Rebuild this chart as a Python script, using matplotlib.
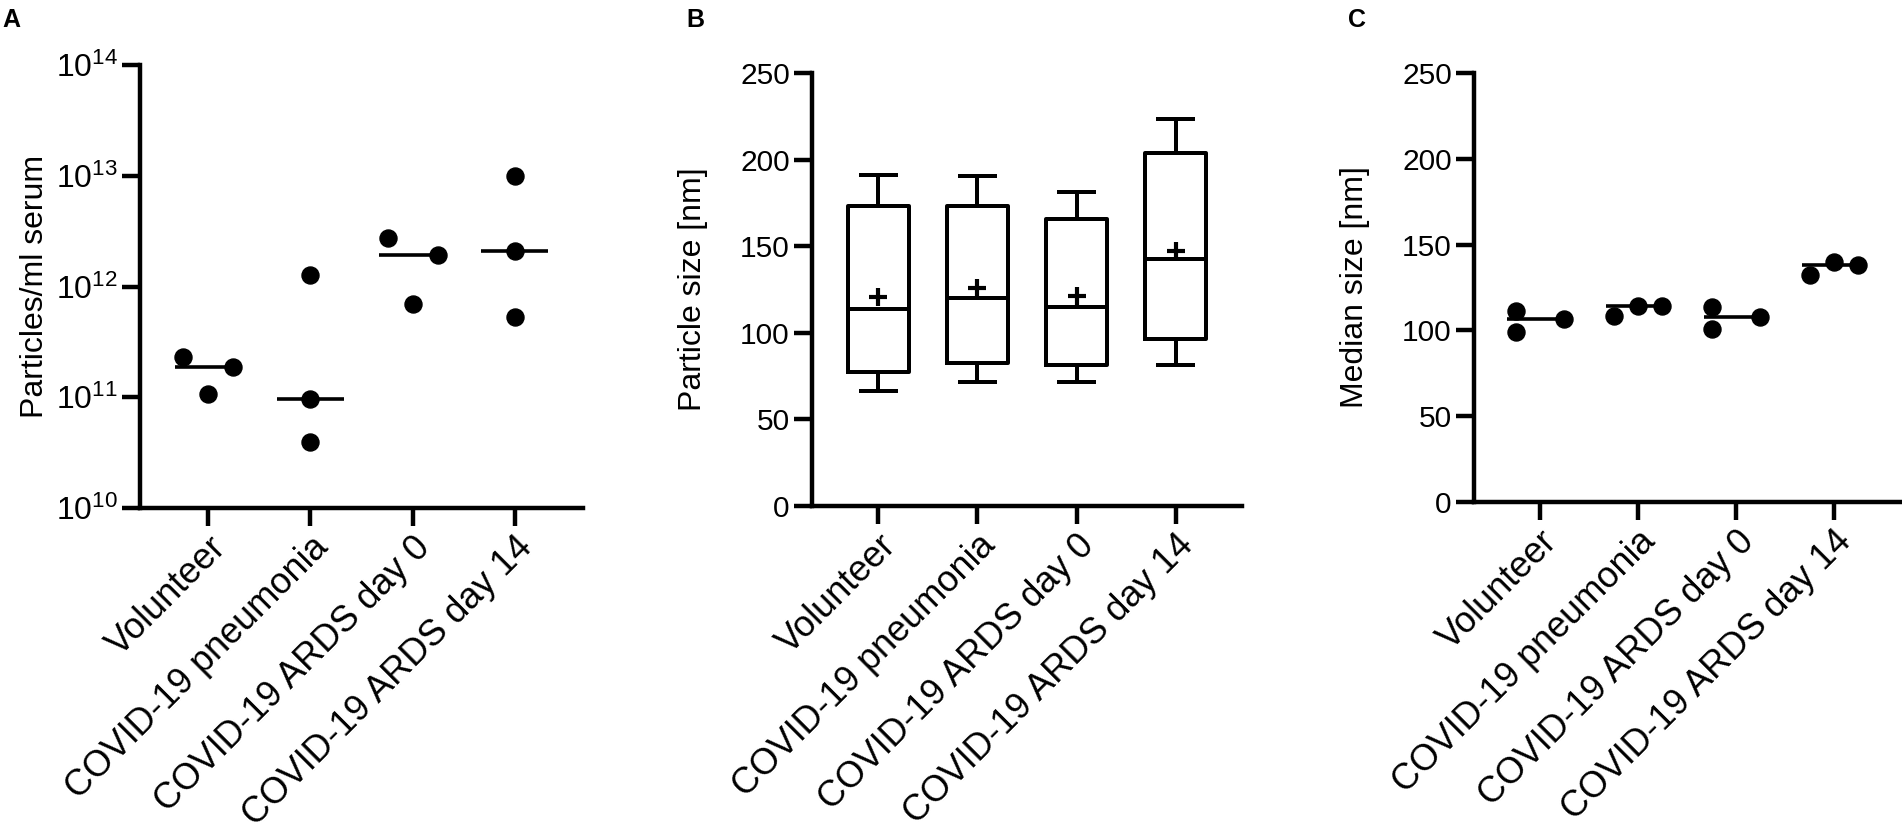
import matplotlib.pyplot as plt
import numpy as np

plt.rcParams['font.family'] = ['Liberation Sans', 'DejaVu Sans']
plt.rcParams['mathtext.fontset'] = 'custom'
plt.rcParams['mathtext.rm'] = 'Liberation Sans'

categories = ['Volunteer', 'COVID-19 pneumonia', 'COVID-19 ARDS day 0', 'COVID-19 ARDS day 14']

# panel A: particles per ml serum (3 donors per group)
particles = [[2.3e11, 1.07e11, 1.87e11],
             [1.26e12, 9.6e10, 3.96e10],
             [2.76e12, 6.9e11, 1.93e12],
             [9.9e12, 2.1e12, 5.3e11]]
# horizontal spread of the dots (-1 left, 0 centre, 1 right)
particles_spread = [[-1, 0, 1], [0, 0, 0], [-1, 0, 1], [0, 0, 0]]

# panel B: particle size distribution (min, q1, median, q3, max, mean)
size_min = [66.4, 71.4, 71.4, 81.4]
size_q1 = [77.6, 82.7, 81.4, 96.4]
size_med = [113.6, 120.0, 115.0, 142.4]
size_q3 = [173.4, 173.4, 165.7, 203.6]
size_max = [191.1, 190.5, 181.5, 223.3]
size_mean = [120.9, 125.7, 121.0, 147.4]

# panel C: median size per donor
median_size = [[111.3, 99.1, 106.5],
               [108.2, 114.1, 114.3],
               [113.7, 101.0, 107.8],
               [132.0, 140.0, 138.0]]
median_spread = [[-1, -1, 1], [-1, 0, 1], [-1, -1, 1], [-1, 0, 1]]

W, H = 1902, 835
fig = plt.figure(figsize=(W / 100, H / 100), dpi=100)


def px_axes(left, right, top, bottom):
    return fig.add_axes([left / W, 1 - bottom / H, (right - left) / W, (bottom - top) / H])


LW = 3.2
FS = 21.5


def style(ax, label, label_right):
    for s in ['top', 'right']:
        ax.spines[s].set_visible(False)
    for s in ['left', 'bottom']:
        ax.spines[s].set_linewidth(LW)
        ax.spines[s].set_capstyle('projecting')
    ax.tick_params(axis='both', length=13, width=LW, labelsize=FS, direction='out', pad=3)
    ax.set_xlim(-0.67, 3.67)
    ax.set_xticks(range(len(categories)))
    ax.set_xticklabels(categories, rotation=45, ha='right', rotation_mode='anchor', fontsize=26)
    for lab in ax.get_xticklabels():
        lab.set_va('top')
    ax.set_ylabel(label, fontsize=23)
    # right edge of the rotated title, in pixels
    bb = ax.get_position()
    x0 = bb.x0 * W
    w = bb.width * W
    ax.yaxis.set_label_coords((label_right - x0) / w, 0.5)


def dots(ax, groups, spread, jitter=0.245, half=0.33):
    for i, (vals, sp) in enumerate(zip(groups, spread)):
        x = i + jitter * np.array(sp)
        med = np.median(vals)
        ax.plot([i - half, i + half], [med, med], color='black', lw=2.6, solid_capstyle='butt', zorder=2)
        ax.scatter(x, vals, s=150, color='black', zorder=3, clip_on=False)


# ---- A
axA = px_axes(140, 583, 65, 508)
axA.set_yscale('log')
axA.set_ylim(1e10, 1e14)
dots(axA, particles, particles_spread)
style(axA, 'Particles/ml serum', 50)
decades = [10, 11, 12, 13, 14]
axA.set_yticks([10.0 ** d for d in decades])
axA.set_yticklabels([r'$\mathregular{10^{%d}}$' % d for d in decades])
axA.yaxis.set_minor_locator(plt.NullLocator())
axA.tick_params(axis='y', labelsize=23)

# ---- B
axB = px_axes(812, 1242, 73, 506)
stats = []
for i in range(len(categories)):
    stats.append(dict(whislo=size_min[i], q1=size_q1[i], med=size_med[i], q3=size_q3[i],
                      whishi=size_max[i], mean=size_mean[i], fliers=[]))
axB.bxp(stats, positions=range(len(categories)), widths=0.62, capwidths=0.35,
        showmeans=False, showfliers=False,
        boxprops=dict(color='black', lw=LW * 0.9),
        whiskerprops=dict(color='black', lw=LW * 0.9),
        capprops=dict(color='black', lw=LW * 0.9),
        medianprops=dict(color='black', lw=LW * 0.9))
axB.scatter(range(len(categories)), size_mean, marker='+', s=150, linewidths=3, color='black', zorder=4)
axB.set_ylim(0, 250)
axB.set_yticks([0, 50, 100, 150, 200, 250])
style(axB, 'Particle size [nm]', 708)

# ---- C
axC = px_axes(1474, 1900, 73, 502)
dots(axC, median_size, median_spread)
axC.set_ylim(0, 250)
axC.set_yticks([0, 50, 100, 150, 200, 250])
style(axC, 'Median size [nm]', 1370)

for letter, x in [('A', 2), ('B', 686), ('C', 1348)]:
    fig.text(x / W, 1 - 8 / H, letter, fontsize=18, fontweight='bold', va='top', ha='left')

fig.savefig('out.png', dpi=100)
